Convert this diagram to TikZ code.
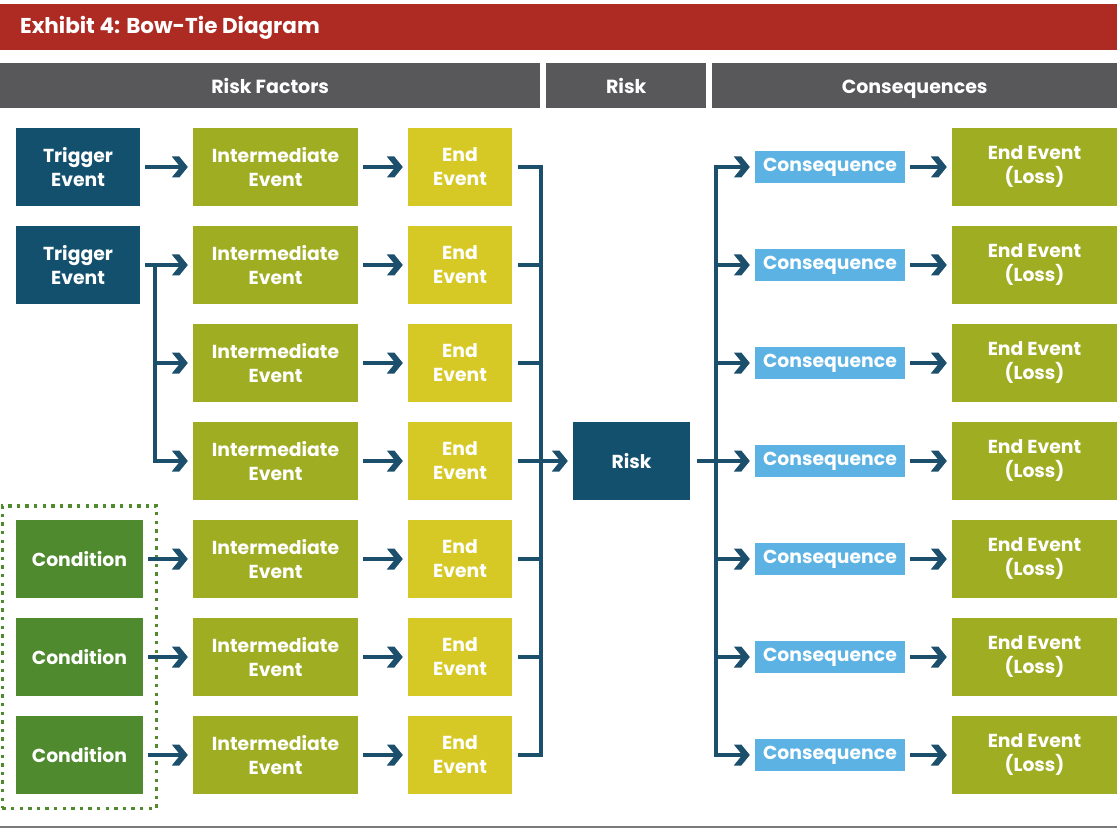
\documentclass[tikz,border=0pt]{standalone}
\usepackage{fontspec}
\setmainfont{Poppins}
\usetikzlibrary{arrows.meta,fit}
\definecolor{titlered}{HTML}{AE2B23}
\definecolor{headgray}{HTML}{58585B}
\definecolor{darkblue}{HTML}{13506E}
\definecolor{lineblue}{HTML}{1B4F6B}
\definecolor{olive}{HTML}{9FAD22}
\definecolor{endyellow}{HTML}{D7C925}
\definecolor{condgreen}{HTML}{4F8A2F}
\definecolor{consblue}{HTML}{5BB2E3}
\definecolor{rulegray}{HTML}{7A7A7A}
\pgfdeclarearrow{
  name = Chevron,
  setup code = {
    \pgfarrowssettipend{0pt}
    \pgfarrowssetlineend{-7.5pt}
    \pgfarrowssetbackend{-16pt}
    \pgfarrowssetvisualbackend{-16pt}
  },
  drawing code = {
    \pgfpathmoveto{\pgfqpoint{0pt}{0pt}}
    \pgfpathlineto{\pgfqpoint{-8.5pt}{10.5pt}}
    \pgfpathlineto{\pgfqpoint{-16pt}{10.5pt}}
    \pgfpathlineto{\pgfqpoint{-7.5pt}{0pt}}
    \pgfpathlineto{\pgfqpoint{-16pt}{-10.5pt}}
    \pgfpathlineto{\pgfqpoint{-8.5pt}{-10.5pt}}
    \pgfpathclose
    \pgfusepathqfill
  }
}
\begin{document}
\begin{tikzpicture}[x=1pt,y=-1pt,
  box/.style={rectangle, inner sep=0pt, text=white, align=center,
    font=\bfseries\fontsize{18.8}{24}\selectfont, minimum height=78pt},
  trigbox/.style={box, fill=darkblue, minimum width=124pt},
  intbox/.style={box, fill=olive, minimum width=165pt},
  endbox/.style={box, fill=endyellow, minimum width=104pt},
  condbox/.style={box, fill=condgreen, minimum width=127pt},
  riskbox/.style={box, fill=darkblue, minimum width=117pt},
  consbox/.style={box, fill=consblue, minimum width=150pt, minimum height=32pt,
    text height=13.5pt, text depth=4.5pt},
  lossbox/.style={box, fill=olive, minimum width=165pt},
  headbar/.style={rectangle, inner sep=0pt, fill=headgray, text=white,
    font=\bfseries\fontsize{19}{22}\selectfont, minimum height=45pt,
    text height=16.5pt, text depth=1.5pt},
  conn/.style={draw=lineblue, line width=3.2pt, line join=miter},
  arr/.style={conn, -Chevron, shorten >=5pt}
]
\useasboundingbox (0,0) rectangle (1117,829);
% title and headers
\node[rectangle, fill=titlered, minimum width=1117pt, minimum height=46pt, inner sep=0pt, anchor=north west] (titlebar) at (0,4) {};
\node[text=white, font=\bfseries\fontsize{21.5}{24}\selectfont, anchor=west, inner sep=0pt] (title) at (20,28) {Exhibit 4: Bow-Tie Diagram};
\node[headbar, minimum width=540pt, anchor=north west] (hfactors) at (0,63) {Risk Factors};
\node[headbar, minimum width=160pt, anchor=north west] (hrisk) at (546,63) {Risk};
\node[headbar, minimum width=405pt, anchor=north west] (hcons) at (712,63) {Consequences};
% left column
\node[trigbox] (t1) at (78,167) {Trigger\\Event};
\node[trigbox] (t2) at (78,265) {Trigger\\Event};
\node[condbox] (c5) at (79.5,559) {Condition};
\node[condbox] (c6) at (79.5,657) {Condition};
\node[condbox] (c7) at (79.5,755) {Condition};
\node[draw=condgreen, line width=3.4pt, dash pattern=on 3.4pt off 5.2pt, fit=(c5)(c7), inner xsep=13.5pt, inner ysep=14pt] (condgroup) {};
\foreach \k in {1,...,7} {
  \pgfmathsetmacro\yy{167+98*(\k-1)}
  \node[intbox] (i\k) at (275.5,\yy) {Intermediate\\Event};
  \node[endbox] (e\k) at (460,\yy) {End\\Event};
  \node[consbox] (q\k) at (830,\yy) {Consequence};
  \node[lossbox] (l\k) at (1034.5,\yy) {End Event\\(Loss)};
}
\node[riskbox] (risk) at (631.5,461) {Risk};
\coordinate (busL) at (541,461);
\coordinate (busR) at (716,461);
\coordinate (branch) at (155,265);
% trigger and condition arrows
\draw[arr, shorten <=5pt] (t1.east) -- (i1.west);
\draw[arr, shorten <=5pt] (t2.east) -- (i2.west);
\draw[arr] (branch) |- (i3.west);
\draw[arr] (branch) |- (i4.west);
\foreach \k in {5,6,7} { \draw[arr, shorten <=5pt] (c\k.east) -- (i\k.west); }
% intermediate to end, consequence to loss
\foreach \k in {1,...,7} {
  \draw[arr, shorten <=5pt] (i\k.east) -- (e\k.west);
  \draw[arr, shorten <=5pt] (q\k.east) -- (l\k.west);
}
% left bus
\draw[conn, shorten <=6pt, shorten >=6pt] (e1.east) -| (e7.east -| busL) -- (e7.east);
\foreach \k in {2,3,5,6} { \draw[conn, shorten <=6pt] (e\k.east) -- (e\k.east -| busL); }
\draw[arr, shorten <=6pt] (e4.east) -- (risk.west);
% right bus
\draw[arr, shorten <=7pt] (risk.east) -- (q4.west);
\draw[conn, Chevron-Chevron, shorten <=5pt, shorten >=5pt] (q1.west) -| (busR) |- (q7.west);
\foreach \k in {2,3,5,6} { \draw[arr] (q\k.west -| busR) -- (q\k.west); }
% bottom rule
\draw[draw=rulegray, line width=2pt] (0,827) -- (1117,827);
\end{tikzpicture}
\end{document}
